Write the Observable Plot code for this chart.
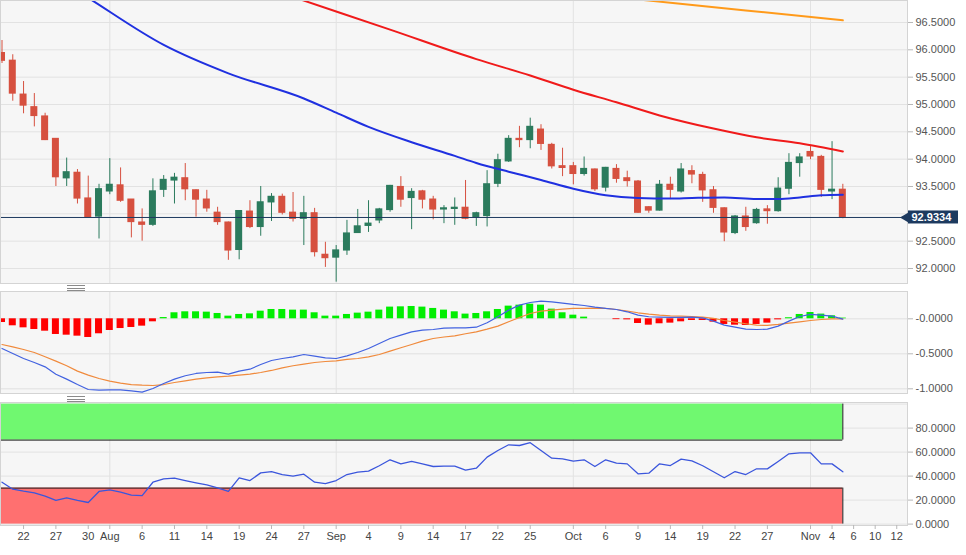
<!DOCTYPE html>
<html><head><meta charset="utf-8">
<script src="https://cdn.jsdelivr.net/npm/d3@7"></script>
<script src="https://cdn.jsdelivr.net/npm/@observablehq/plot@0.6"></script>
<style>
body{margin:0;background:#fff;font-family:"Liberation Sans",Arial,sans-serif;}
#chart{position:relative;width:966px;height:555px;overflow:hidden;background:#fff;}
#chart .panel{position:absolute;left:0;}
#chart svg{display:block;}
.handle{position:absolute;left:67px;width:18px;height:4px;border-top:1px solid #8a8a8a;border-bottom:1px solid #8a8a8a;}
.handle::after{content:"";position:absolute;left:0;right:0;top:1.5px;border-top:1px solid #8a8a8a;}
</style></head><body><div id="chart"></div><script>
// ---------- DATA ----------
const days = ["Jul 20","Jul 21","Jul 22","Jul 23","Jul 24","Jul 27","Jul 28","Jul 29","Jul 30","Jul 31",
"Aug 3","Aug 4","Aug 5","Aug 6","Aug 7","Aug 10","Aug 11","Aug 12","Aug 13","Aug 14","Aug 17","Aug 18","Aug 19","Aug 20","Aug 21","Aug 24","Aug 25","Aug 26","Aug 27","Aug 28","Aug 31",
"Sep 1","Sep 2","Sep 3","Sep 4","Sep 7","Sep 8","Sep 9","Sep 10","Sep 11","Sep 14","Sep 15","Sep 16","Sep 17","Sep 18","Sep 21","Sep 22","Sep 23","Sep 24","Sep 25","Sep 28","Sep 29","Sep 30",
"Oct 1","Oct 2","Oct 5","Oct 6","Oct 7","Oct 8","Oct 9","Oct 12","Oct 13","Oct 14","Oct 15","Oct 16","Oct 19","Oct 20","Oct 21","Oct 22","Oct 23","Oct 26","Oct 27","Oct 28","Oct 29","Oct 30",
"Nov 2","Nov 3","Nov 4","Nov 5","Nov 6","Nov 9","Nov 10","Nov 11","Nov 12"];

const open = [95.94,95.80,95.18,94.95,94.78,94.37,93.65,93.75,93.28,92.95,
93.41,93.52,93.26,92.84,92.80,93.44,93.61,93.65,93.43,93.26,93.02,92.84,92.34,93.04,92.76,93.21,93.31,93.02,92.91,93.01,92.25,
92.20,92.33,92.65,92.78,92.88,93.07,93.49,93.29,93.41,93.26,93.08,93.09,93.11,92.94,92.96,93.55,93.96,94.37,94.35,94.54,94.26,93.87,
93.87,93.73,93.81,93.48,93.82,93.65,93.59,93.12,93.06,93.53,93.41,93.78,93.71,93.43,93.10,92.65,92.95,92.83,93.08,93.05,93.46,93.93,
94.13,94.04,93.41,93.44];
const high = [96.17,95.91,95.42,95.20,94.84,94.37,94.02,93.81,93.69,93.54,
94.01,93.84,93.26,93.09,93.64,93.70,93.74,93.92,93.44,93.43,93.12,92.85,93.06,93.24,93.50,93.37,93.36,93.39,93.32,93.10,92.48,
92.42,92.88,93.08,93.24,93.10,93.52,93.68,93.46,93.43,93.32,93.15,93.29,93.61,93.03,93.79,94.09,94.43,94.60,94.75,94.63,94.29,94.20,
93.94,94.04,93.82,93.85,93.90,93.78,93.61,93.13,93.61,93.67,93.92,93.88,93.76,93.50,93.11,92.97,93.12,93.10,93.15,93.66,94.10,94.10,
94.23,94.07,94.32,93.54];
const low = [95.75,95.06,94.83,94.59,94.34,93.50,93.50,93.18,92.93,92.54,
93.35,93.21,92.56,92.50,92.77,93.30,93.18,93.24,92.94,93.03,92.79,92.15,92.16,92.73,92.59,92.86,92.98,92.85,92.42,92.21,92.02,
91.75,92.24,92.64,92.66,92.82,93.03,93.12,92.71,93.09,92.89,92.82,92.79,92.89,92.77,92.76,93.48,93.94,94.21,94.19,94.16,93.82,93.68,
93.53,93.69,93.41,93.40,93.56,93.49,93.01,93.01,93.05,93.26,93.38,93.55,93.21,93.01,92.49,92.62,92.68,92.81,92.81,93.03,93.35,93.67,
93.99,93.30,93.26,92.91];
const close = [95.80,95.20,94.98,94.79,94.35,93.67,93.76,93.28,92.94,93.45,
93.53,93.24,92.85,92.80,93.41,93.62,93.66,93.45,93.26,93.10,92.85,92.33,93.05,92.76,93.21,93.31,93.02,92.91,93.01,92.30,92.19,
92.33,92.64,92.77,92.82,93.08,93.51,93.26,93.40,93.26,93.08,93.10,93.11,92.91,93.01,93.54,93.98,94.37,94.35,94.59,94.28,93.87,93.84,
93.73,93.82,93.45,93.84,93.64,93.60,93.02,93.06,93.53,93.44,93.81,93.72,93.43,93.11,92.66,92.95,92.76,93.07,93.05,93.46,93.93,94.03,
94.05,93.44,93.44,92.9334];

const ma50Dates = ["Jul 20","Jul 30","Aug 10","Aug 18","Aug 27","Sep 1","Sep 4","Sep 10","Sep 16","Sep 18","Sep 23","Sep 28","Oct 1","Oct 6","Oct 9","Oct 14","Oct 16","Oct 21","Oct 26","Oct 28","Oct 30","Nov 3","Nov 5"];
const ma50Values = [97.95,96.95,96.09,95.57,95.11,94.85,94.59,94.31,94.06,93.93,93.77,93.62,93.46,93.34,93.29,93.28,93.29,93.30,93.27,93.27,93.30,93.34,93.35];
const ma100Dates = ["Aug 19","Aug 27","Sep 8","Sep 18","Sep 25","Oct 1","Oct 7","Oct 13","Oct 20","Oct 26","Oct 30","Nov 5"];
const ma100Values = [97.30,96.90,96.37,95.83,95.53,95.27,95.04,94.80,94.56,94.40,94.29,94.14];
const ma200Dates = ["Sep 30","Oct 12","Oct 23","Nov 5"];
const ma200Values = [97.06,96.90,96.72,96.54];

// MACD panel
const macdHist = [-0.053,-0.10,-0.129,-0.153,-0.177,-0.224,-0.234,-0.248,-0.267,-0.214,
-0.167,-0.139,-0.124,-0.105,-0.043,0.018,0.086,0.10,0.10,0.095,0.076,0.038,0.062,0.071,0.109,0.133,0.133,0.124,0.124,0.086,0.038,
0.038,0.062,0.081,0.095,0.124,0.167,0.171,0.176,0.167,0.148,0.124,0.10,0.067,0.076,0.10,0.133,0.181,0.195,0.209,0.195,0.138,0.086,
0.052,0.024,0,0,-0.012,-0.015,-0.067,-0.091,-0.071,-0.062,-0.043,-0.024,-0.024,-0.048,-0.081,-0.091,-0.095,-0.081,-0.062,-0.015,0.015,0.062,
0.09,0.067,0.043,0.01];
const macdLine = [-0.424,-0.496,-0.567,-0.624,-0.686,-0.791,-0.862,-0.939,-1.01,-1.02,
-1.014,-1.014,-1.029,-1.048,-0.996,-0.924,-0.862,-0.814,-0.781,-0.767,-0.762,-0.791,-0.748,-0.72,-0.653,-0.596,-0.567,-0.543,-0.51,-0.534,-0.557,
-0.567,-0.529,-0.481,-0.424,-0.353,-0.281,-0.234,-0.186,-0.162,-0.153,-0.134,-0.129,-0.129,-0.12,-0.057,0.029,0.124,0.195,0.233,0.252,0.243,0.224,
0.205,0.19,0.167,0.148,0.133,0.10,0.052,0.029,0.024,0.019,0.019,0.024,0.014,-0.033,-0.091,-0.12,-0.148,-0.153,-0.148,-0.105,-0.033,0.033,
0.062,0.052,0.038,-0.005];
const signalLine = [-0.367,-0.40,-0.438,-0.481,-0.543,-0.605,-0.671,-0.748,-0.805,-0.853,
-0.891,-0.92,-0.939,-0.948,-0.953,-0.939,-0.91,-0.886,-0.862,-0.843,-0.829,-0.819,-0.805,-0.791,-0.767,-0.738,-0.70,-0.671,-0.648,-0.624,-0.61,
-0.60,-0.581,-0.567,-0.543,-0.51,-0.462,-0.414,-0.367,-0.319,-0.281,-0.26,-0.243,-0.214,-0.186,-0.148,-0.105,-0.043,0.019,0.076,0.109,0.124,0.138,
0.148,0.148,0.152,0.148,0.133,0.109,0.086,0.067,0.052,0.043,0.038,0.033,0.024,0.005,-0.024,-0.048,-0.071,-0.091,-0.095,-0.081,-0.062,-0.043,
-0.024,-0.01,0,0];

// RSI panel
const rsi = [34.9,29.1,27.4,26.1,23.3,19.7,21.9,19.7,18.0,27.2,
28.6,26.6,24.1,23.8,34.9,37.7,38.3,36.3,34.4,32.7,30.2,27.2,38.6,36.3,42.7,43.8,41.3,39.9,41.6,34.9,33.8,
36.3,41.3,43.3,44.1,48.6,53.6,50.2,52.2,50.2,48.0,48.3,48.3,44.9,46.6,55.8,61.3,66.1,65.5,67.8,61.3,54.9,54.4,
52.4,53.6,48.0,53.6,50.8,50.2,41.9,42.4,50.2,48.8,54.1,52.7,48.6,43.6,38.6,43.8,41.3,46.1,46.0,52.2,58.6,59.4,
59.4,50.2,50.2,43.6];
const rsiUpper = [70, 100];
const rsiLower = [0, 30];

// ticks (93.0000 sits hidden under the last-price box in the reference, so it has a gridline but no label)
const priceGrid = [92.0,92.5,93.0,93.5,94.0,94.5,95.0,95.5,96.0,96.5];
const priceTicks = [92.0,92.5,93.5,94.0,94.5,95.0,95.5,96.0,96.5];
const macdTicks = [-1.0,-0.5,0];
const macdTickLabels = ["-1.0000","-0.5000","-0.0000"];
const rsiTicks = [0,20,40,60,80];
const rsiTickLabels = ["0.0000","20.0000","40.0000","60.0000","80.0000"];
const xTickDates = ["Jul 22","Jul 27","Jul 30","Aug 3","Aug 6","Aug 11","Aug 14","Aug 19","Aug 24","Aug 27","Sep 1","Sep 4","Sep 9","Sep 14","Sep 17","Sep 22","Sep 25","Oct 1","Oct 6","Oct 9","Oct 14","Oct 19","Oct 22","Oct 27","Nov 2","Nov 4","Nov 6","Nov 10","Nov 12"];
const xTickLabels = ["22","27","30","Aug","6","11","14","19","24","27","Sep","4","9","14","17","22","25","Oct","6","9","14","19","22","27","Nov","4","6","10","12"];
const monthStarts = ["Aug 3","Sep 1","Oct 1","Nov 2"];

// ---------- LAYOUT ----------
const W = 966, plotRight = 907, MR = W - plotRight;
const pxPerDay = 10.78, x0px = 1.5;
const pxToX = px => (px - x0px) / pxPerDay;
const xDomain = [pxToX(0), pxToX(plotRight)];
// price scale: 92.0 at 268px, 54.67px per 1.0
const pricePx = 54.67;
const priceDomain = [92 - (283 - 268) / pricePx, 92 + 268 / pricePx];

const C = {
  bg: "#f6f6f6", grid: "#e2e2e2", frame: "#d4d4d4", axisText: "#555", tick: "#b8b8b8",
  up: "#2b7b5d", down: "#d6503f",
  ma50: "#1f30e0", ma100: "#f01a1a", ma200: "#ff9a1a",
  macd: "#4262e0", signal: "#f08a3c", histUp: "#00ee00", histDown: "#ff0000",
  rsi: "#3b56dc", rsiUp: "#70f870", rsiDown: "#ff7070", navy: "#1d3a5f"
};

const dayIndex = new Map(days.map((d, i) => [d, i]));
const candles = open.map((o, i) => ({p: i, open: o, high: high[i], low: low[i], close: close[i], up: close[i] >= o}));
const toPts = (ds, vs) => ds.map((d, i) => ({p: dayIndex.get(d), v: vs[i]}));
const ma50 = toPts(ma50Dates, ma50Values);
const ma100 = toPts(ma100Dates, ma100Values);
const ma200 = toPts(ma200Dates, ma200Values);
const monthPos = monthStarts.map(d => dayIndex.get(d));
const xTickPos = xTickDates.map(d => dayIndex.get(d));
const xLabelByPos = new Map(xTickPos.map((p, i) => [p, xTickLabels[i]]));
const macdData = macdHist.map((h, i) => ({p: i, hist: h, macd: macdLine[i], signal: signalLine[i]}));
const rsiData = rsi.map((v, i) => ({p: i, v}));
const lastP = candles.length - 1;
const lastClose = close[lastP];
const halfBody = 0.325;

const font = {fontFamily: "'Liberation Sans', Arial, sans-serif", fontSize: "11px", background: "transparent", overflow: "visible"};

// ---------- MAIN PRICE PANEL ----------
const main = Plot.plot({
  width: W, height: 283, marginLeft: 0, marginRight: MR, marginTop: 0, marginBottom: 0,
  style: font,
  x: {domain: xDomain, axis: null, label: null},
  y: {domain: priceDomain, axis: null, label: null},
  marks: [
    Plot.frame({fill: C.bg}),
    Plot.ruleY(priceGrid, {stroke: C.grid}),
    Plot.ruleX(monthPos, {stroke: C.grid}),
    Plot.ruleX(candles, {x: "p", y1: "low", y2: "high", stroke: d => d.up ? C.up : C.down, strokeWidth: 1}),
    Plot.rect(candles, {x1: d => d.p - halfBody, x2: d => d.p + halfBody, y1: "open", y2: "close",
      fill: d => d.up ? C.up : C.down, insetTop: -0.6, insetBottom: -0.6}),
    Plot.line(ma200, {x: "p", y: "v", stroke: C.ma200, strokeWidth: 2, curve: "monotone-x", clip: true}),
    Plot.line(ma100, {x: "p", y: "v", stroke: C.ma100, strokeWidth: 2, curve: "monotone-x", clip: true}),
    Plot.line(ma50, {x: "p", y: "v", stroke: C.ma50, strokeWidth: 2, curve: "monotone-x", clip: true}),
    Plot.ruleY([lastClose], {stroke: C.navy, strokeWidth: 1}),
    Plot.frame({stroke: C.frame}),
    Plot.axisY(priceTicks, {anchor: "right", label: null, tickFormat: d => d.toFixed(4), tickSize: 5, tickPadding: 3,
      fontSize: 11, stroke: C.tick, fill: C.axisText}),
    Plot.rect([lastClose], {x1: pxToX(908), x2: pxToX(958), y1: d => d - 6.5 / pricePx, y2: d => d + 6.5 / pricePx, fill: C.navy}),
    Plot.dot([lastClose], {x: pxToX(906), y: d => d, symbol: "triangle", rotate: -90, r: 4.2, fill: C.navy}),
    Plot.text([lastClose], {x: pxToX(911), y: d => d, text: d => d.toFixed(4), textAnchor: "start",
      fill: "white", fontWeight: "bold", fontSize: 11})
  ]
});

// ---------- MACD PANEL ----------
const macdTop = 291, macdH = 102, macdZero = 318.3, macdPx = 70;
const macdDomain = [(macdZero - (macdTop + macdH)) / macdPx, (macdZero - macdTop) / macdPx];
const macdLabel = new Map(macdTicks.map((t, i) => [t, macdTickLabels[i]]));
const macdPlot = Plot.plot({
  width: W, height: macdH, marginLeft: 0, marginRight: MR, marginTop: 0, marginBottom: 0,
  style: font,
  x: {domain: xDomain, axis: null, label: null},
  y: {domain: macdDomain, axis: null, label: null},
  marks: [
    Plot.frame({fill: C.bg}),
    Plot.ruleY(macdTicks, {stroke: C.grid}),
    Plot.ruleX(monthPos, {stroke: C.grid}),
    Plot.rect(macdData, {x1: d => d.p - halfBody, x2: d => d.p + halfBody, y1: d => 0, y2: "hist",
      fill: d => d.hist >= 0 ? C.histUp : C.histDown}),
    Plot.line(macdData, {x: "p", y: "signal", stroke: C.signal, strokeWidth: 1.2}),
    Plot.line(macdData, {x: "p", y: "macd", stroke: C.macd, strokeWidth: 1.2}),
    Plot.frame({stroke: C.frame}),
    Plot.axisY(macdTicks, {anchor: "right", label: null, tickFormat: d => macdLabel.get(d), tickSize: 5, tickPadding: 3,
      fontSize: 11, stroke: C.tick, fill: C.axisText})
  ]
});

// ---------- RSI PANEL ----------
const rsiTop = 402, rsiH = 123, rsiZero = 523.6, rsiPx = 1.2;
const rsiDomain = [(rsiZero - (rsiTop + rsiH)) / rsiPx, (rsiZero - rsiTop) / rsiPx];
const rsiLabel = new Map(rsiTicks.map((t, i) => [t, rsiTickLabels[i]]));
const bands = [{y1: rsiUpper[0], y2: rsiUpper[1], fill: C.rsiUp, edge: rsiUpper[0]}, {y1: rsiLower[0], y2: rsiLower[1], fill: C.rsiDown, edge: rsiLower[1]}];
const rsiPlot = Plot.plot({
  width: W, height: rsiH + 30, marginLeft: 0, marginRight: MR, marginTop: 0, marginBottom: 30,
  style: font,
  x: {domain: xDomain, axis: null, label: null},
  y: {domain: rsiDomain, axis: null, label: null},
  marks: [
    Plot.frame({fill: C.bg}),
    Plot.ruleY([...rsiTicks, 100], {stroke: C.grid}),
    Plot.ruleX(monthPos, {stroke: C.grid}),
    Plot.rect(bands, {x1: () => xDomain[0], x2: () => lastP, y1: "y1", y2: "y2", fill: "fill"}),
    Plot.ruleY(bands, {y: "edge", x1: () => xDomain[0], x2: () => lastP, stroke: "#1a1a1a", strokeWidth: 1}),
    Plot.ruleX(bands, {x: () => lastP, y1: "y1", y2: "y2", stroke: "#1a1a1a", strokeWidth: 1}),
    Plot.line(rsiData, {x: "p", y: "v", stroke: C.rsi, strokeWidth: 1.3}),
    Plot.frame({stroke: C.frame}),
    Plot.axisY(rsiTicks, {anchor: "right", label: null, tickFormat: d => rsiLabel.get(d), tickSize: 5, tickPadding: 3,
      fontSize: 11, stroke: C.tick, fill: C.axisText}),
    Plot.axisX(xTickPos, {anchor: "bottom", label: null, tickFormat: d => xLabelByPos.get(d), tickSize: 4, tickPadding: 3,
      fontSize: 11, stroke: C.tick, fill: "#444"})
  ]
});

// ---------- ASSEMBLE ----------
const chart = document.getElementById("chart");
function place(node, top) {
  const wrap = document.createElement("div");
  wrap.className = "panel";
  wrap.style.top = top + "px";
  wrap.appendChild(node);
  chart.appendChild(wrap);
}
place(main, 0);
place(macdPlot, macdTop);
place(rsiPlot, rsiTop);
[285, 396].forEach(t => {
  const h = document.createElement("div");
  h.className = "handle";
  h.style.top = t + "px";
  chart.appendChild(h);
});
</script></body></html>
